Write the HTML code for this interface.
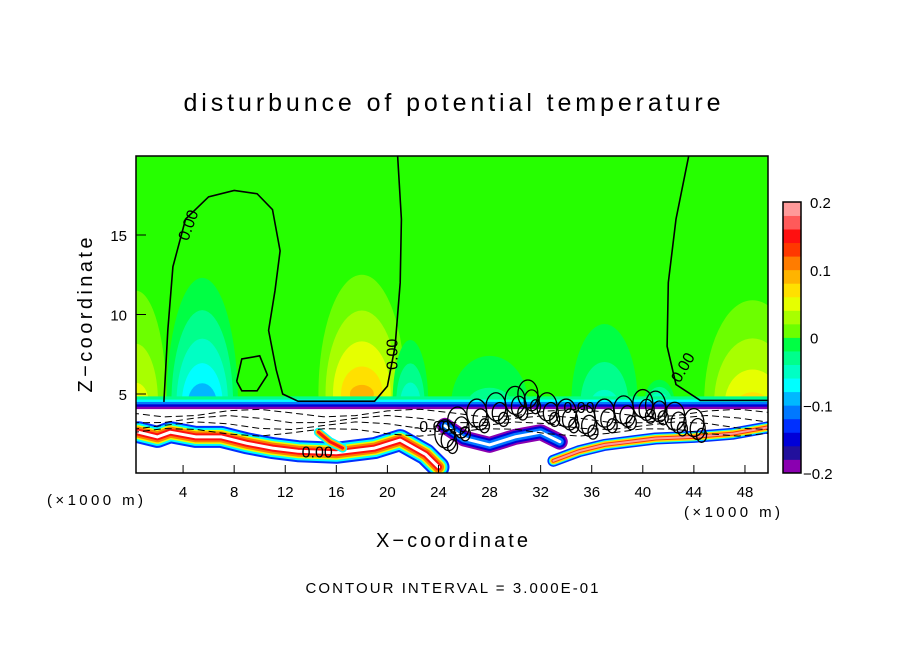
<!DOCTYPE html>
<html><head><meta charset="utf-8"><title>disturbunce of potential temperature</title>
<style>
html,body{margin:0;padding:0;background:#fff;}
svg{display:block;font-family:"Liberation Sans",sans-serif;}
</style></head>
<body>
<svg id="chart" width="904" height="654" viewBox="0 0 904 654" xmlns="http://www.w3.org/2000/svg">
<defs><clipPath id="plotClip"><rect x="136" y="156" width="632" height="317"/></clipPath></defs>
<text x="452" y="111" text-anchor="middle" font-size="25" textLength="537" lengthAdjust="spacing">disturbunce of potential temperature</text>
<g id="field" clip-path="url(#plotClip)"></g>
<rect x="136" y="156" width="632" height="317" fill="none" stroke="#000" stroke-width="1.5"/>
<g id="axes"></g>
<g id="cbar"></g>
<text x="452" y="547" text-anchor="middle" font-size="20" textLength="152" lengthAdjust="spacing">X−coordinate</text>
<text transform="translate(92,315) rotate(-90)" text-anchor="middle" font-size="20" textLength="155" lengthAdjust="spacing">Z−coordinate</text>
<text x="47" y="505" font-size="15" textLength="96" lengthAdjust="spacing">(×1000 m)</text>
<text x="684" y="517" font-size="15" textLength="96" lengthAdjust="spacing">(×1000 m)</text>
<text x="452" y="593" text-anchor="middle" font-size="15" textLength="293" lengthAdjust="spacing">CONTOUR INTERVAL = 3.000E-01</text>
</svg>
<script>
const xTicks=[4,8,12,16,20,24,28,32,36,40,44,48];
const zTicks=[5,10,15];
const cbarTicks=[0.2,0.1,0,-0.1,-0.2];
const cbarLabels=["0.2","0.1","0","−0.1","−0.2"];
const bandColors=["#8a00b0","#22109c","#0000d8","#0030ff","#0078ff","#00b8ff","#00ffff","#00ffc4","#00ff8c","#00ff44","#26ff00","#6cff00","#a8ff00","#e6ff00","#ffe000","#ffb400","#ff7c00","#ff3800","#ff1010","#ff5a5a","#ff9a9a"];
// blobs: x, z, rx, rz, peak value
const blobX=[0.3,5.5,18,21.8,28,37,41.3,48.6];
const blobZ=[4.5,4.3,5.0,4.4,4.4,4.4,4.4,4.4];
const blobRx=[2.4,2.8,3.4,1.4,3.0,2.6,1.2,3.8];
const blobRz=[7.0,8.0,7.5,4.0,3.0,5.0,1.5,6.5];
const blobPeak=[0.06,-0.11,0.10,-0.08,-0.03,-0.05,-0.10,0.07];
// white-region streaks (x,z pairs)
const streakA=[[0.5,2.6],[2,2.3],[3,2.6],[5,2.3],[7,2.3],[9,1.9],[11,1.6],[13,1.4],[16,1.3],[19,1.6],[21,2.1],[23,1.2],[24,0.4]];
const streakB=[[33,0.8],[35,1.4],[37,1.8],[39,2.0],[41,2.2],[44,2.3],[47,2.5],[49.8,2.9]];
const streakC=[[24.5,3.0],[26,2.2],[28,1.8],[30,2.3],[32,2.6],[33.5,2.0]];
const streakD=[[14.6,2.6],[15.5,2.0],[16.5,1.6]];
// contours (x,z)
const contour0a=[[2.5,4.5],[2.8,9],[3.2,13],[4.2,16],[6,17.4],[8,17.8],[9.8,17.6],[11,16.6],[11.6,14],[11.2,11.5],[10.7,9],[11.3,6.5],[11.8,5],[13,4.55],[19,4.55],[20,5.5],[20.6,8],[21,12],[21.1,16],[20.8,20]];
const contour0b=[[43.6,20],[42.6,16],[42,12],[41.9,8],[42.6,5.6],[44.5,4.6],[50,4.6]];
const contour0c=[[8.2,5.8],[8.6,7.2],[10,7.4],[10.6,6.2],[9.8,5.2],[8.6,5.2],[8.2,5.8]];
const dashZ=[3.8,3.4,3.0,2.6];
const messX=[24.5,25.5,27,28.5,30,31,32.5,34,35.5,37,38.5,40,41,42.5,44];
const messZ=[2.5,3.3,3.8,4.2,4.6,5.0,4.2,3.8,3.4,3.8,4.0,4.4,4.3,3.6,3.2];

const NS='http://www.w3.org/2000/svg';
const X=v=>132+v*12.77;
const Z=v=>473.5-v*15.9;
const field=document.getElementById('field');
function mk(tag,attrs,parent){const e=document.createElementNS(NS,tag);for(const k in attrs)e.setAttribute(k,attrs[k]);parent.appendChild(e);return e;}
function colorFor(v){let i=Math.floor((v+0.2)/0.02);i=Math.max(0,Math.min(20,i));return bandColors[i];}
function pts(arr){return arr.map(p=>X(p[0]).toFixed(1)+','+Z(p[1]).toFixed(1)).join(' ');}

let bg=mk('rect',{x:130,y:150,width:650,height:330,fill:bandColors[10]},field);


blobX.forEach((bx,i)=>{
  const n=Math.round(Math.abs(blobPeak[i])/0.02+0.49);
  const sgn=Math.sign(blobPeak[i]);
  for(let k=1;k<=n;k++){
    const s=Math.pow((n-k+1)/n,1.6);
    const v=sgn>0?(k)*0.02+0.001:-(k-1)*0.02-0.001;
    const el=mk('ellipse',{cx:X(bx),cy:Z(blobZ[i]),rx:blobRx[i]*12.77*Math.sqrt(s),ry:blobRz[i]*15.9*s,fill:colorFor(v)},field);
    
    
  }
});
const bandLevels=[[4.85,bandColors[8]],[4.65,bandColors[6]],[4.5,bandColors[4]],[4.35,bandColors[2]],[4.2,bandColors[0]]];
bandLevels.forEach(b=>{
  const r=mk('rect',{x:130,y:Z(b[0]),width:650,height:Z(0)-Z(b[0])+5,fill:b[1]},field);
  
  
});
const wr=mk('rect',{x:130,y:Z(4.05),width:650,height:Z(0)-Z(4.05)+5,fill:'#fff'},field);


function streak(arr,cols,widths){
  cols.forEach((c,j)=>{
    const p=mk('polyline',{points:pts(arr),fill:'none',stroke:c,'stroke-width':widths[j],'stroke-linejoin':'round','stroke-linecap':'round'},field);
    
    
  });
}
streak(streakA,['#0030ff','#00ffff','#e6ff00','#ff7c00','#ff1010','#fff'],[22,18,14,11,7,3]);
streak(streakB,['#0030ff','#00ffff','#ffe000','#ff3800','#ff9a9a'],[12,9,7,4,2]);
streak(streakC,['#8a00b0','#0000d8','#0078ff','#fff'],[16,12,8,3]);
streak(streakD,['#00ffff','#ffb400','#ff1010'],[9,6,3]);
dashZ.forEach((dz,i)=>{
  const arr=[];for(let x=0;x<=50;x+=2.5)arr.push([x,dz-0.25*Math.sin(x*0.5+i)]);
  const p=mk('polyline',{points:pts(arr),fill:'none',stroke:'#000','stroke-width':1,'stroke-dasharray':'7,4'},field);
  
  
});
messX.forEach((mx,i)=>{
  for(let k=0;k<3;k++){
    const e=mk('ellipse',{cx:X(mx+k*0.3),cy:Z(messZ[i]-k*0.4),rx:10-k*2.5,ry:14-k*3.5,fill:'none',stroke:'#000','stroke-width':1.3},field);
    
    
  }
});
[contour0a,contour0b,contour0c].forEach(c=>{
  const p=mk('polyline',{points:pts(c),fill:'none',stroke:'#000','stroke-width':1.6},field);
  
  
});
const labs=[[4.8,15.5,'0.00',-70],[20.8,7.5,'0.00',-90],[43.5,6.5,'0.00',-60],[14.5,1.0,'0.00',0],[23.5,2.6,'-0.60',0],[35,3.8,'0.00',0]];
labs.forEach(l=>{
  const t=mk('text',{x:X(l[0]),y:Z(l[1]),'font-size':16,'text-anchor':'middle',transform:`rotate(${l[3]} ${X(l[0])} ${Z(l[1])})`,fill:'#000'},field);
  t.textContent=l[2];
  
  
});
const axes=document.getElementById('axes');
xTicks.forEach(t=>{
  const l=mk('line',{x1:X(t),x2:X(t),y1:473,y2:465,stroke:'#000','stroke-width':1},axes);
  
  
  const tx=mk('text',{x:X(t),y:497,'font-size':15,'text-anchor':'middle'},axes);
  tx.textContent=t;
  
  
});
zTicks.forEach(t=>{
  const l=mk('line',{x1:136,x2:146,y1:Z(t),y2:Z(t),stroke:'#000','stroke-width':1},axes);
  
  
  const tx=mk('text',{x:127,y:Z(t)+6,'font-size':15,'text-anchor':'end'},axes);
  tx.textContent=t;
  
  
});
const cb=document.getElementById('cbar');
const cTop=202,cBot=473,n=20,h=(cBot-cTop)/n;
for(let i=0;i<n;i++){
  const idx=i<10?i:i+1;
  const r=mk('rect',{x:783,y:cBot-(i+1)*h,width:18,height:h+0.4,fill:bandColors[idx]},cb);
  
  
}
mk('rect',{x:783,y:cTop,width:18,height:cBot-cTop,fill:'none',stroke:'#000','stroke-width':1.5},cb);
cbarTicks.forEach((v,i)=>{
  const y=cBot-(v+0.2)/0.4*(cBot-cTop);
  const t=mk('text',{x:v<0?803:810,y:y+6,'font-size':15},cb);
  t.textContent=cbarLabels[i];
  
  
});
</script>
</body></html>
